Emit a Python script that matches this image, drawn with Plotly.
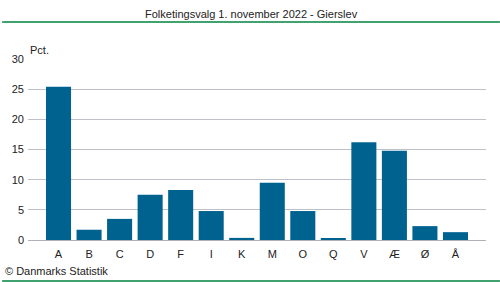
import plotly.graph_objects as go

categories = ["A", "B", "C", "D", "F", "I", "K", "M", "O", "Q", "V", "Æ", "Ø", "Å"]
values = [25.4, 1.7, 3.5, 7.5, 8.3, 4.8, 0.35, 9.5, 4.8, 0.2, 16.2, 14.8, 2.3, 1.3]
y_ticks = [0, 5, 10, 15, 20, 25, 30]

W, H = 500, 282
L, R, T, B = 26, 14, 59, 42
ph = H - T - B
pw = W - L - R

fig = go.Figure(go.Bar(x=categories, y=values, marker=dict(color="#00628f", line=dict(width=0)),
                       hoverinfo="skip"))

green = "#00843f"
fig.update_layout(
    width=W, height=H, autosize=False,
    margin=dict(l=L, r=R, t=T, b=B, pad=0),
    paper_bgcolor="white", plot_bgcolor="white",
    bargap=0.18,
    showlegend=False,
    font=dict(family="Liberation Sans, Arial, sans-serif", size=11, color="#222"),
    xaxis=dict(range=[-1, len(categories)], showgrid=False, showline=False, ticks="",
               ticklabelstandoff=6, tickfont=dict(size=11, color="#222"), fixedrange=True),
    yaxis=dict(range=[0, 30], tickvals=y_ticks, showgrid=True, gridcolor="#c0c0c8", gridwidth=1,
               zeroline=True, zerolinecolor="#b0b0b8", zerolinewidth=1, showline=False, ticks="",
               ticklabelstandoff=3, tickfont=dict(size=11, color="#222"), fixedrange=True),
    shapes=[
        dict(type="line", xref="paper", yref="paper", x0=-L / pw, x1=(W - L) / pw,
             y0=(ph + T - 22) / ph, y1=(ph + T - 22) / ph, line=dict(color=green, width=1.5)),
        dict(type="line", xref="paper", yref="paper", x0=-L / pw, x1=(W - L) / pw,
             y0=(ph + T - 281) / ph, y1=(ph + T - 281) / ph, line=dict(color=green, width=1.5)),
    ],
    annotations=[
        dict(text="Folketingsvalg 1. november 2022 - Gierslev", xref="paper", yref="paper",
             x=(250 - L) / pw, y=(ph + T - 14) / ph, xanchor="center", yanchor="middle",
             showarrow=False, font=dict(size=11, color="#222")),
        dict(text="Pct.", xref="paper", yref="paper", x=(26 - L) / pw, y=(ph + T - 50) / ph,
             xanchor="left", yanchor="middle", showarrow=False, font=dict(size=11, color="#222")),
        dict(text="© Danmarks Statistik", xref="paper", yref="paper", x=-(L - 1) / pw,
             y=(ph + T - 271) / ph, xanchor="left", yanchor="middle", showarrow=False,
             font=dict(size=11, color="#222")),
    ],
)

fig.write_html("out.html", config={"displayModeBar": False})
